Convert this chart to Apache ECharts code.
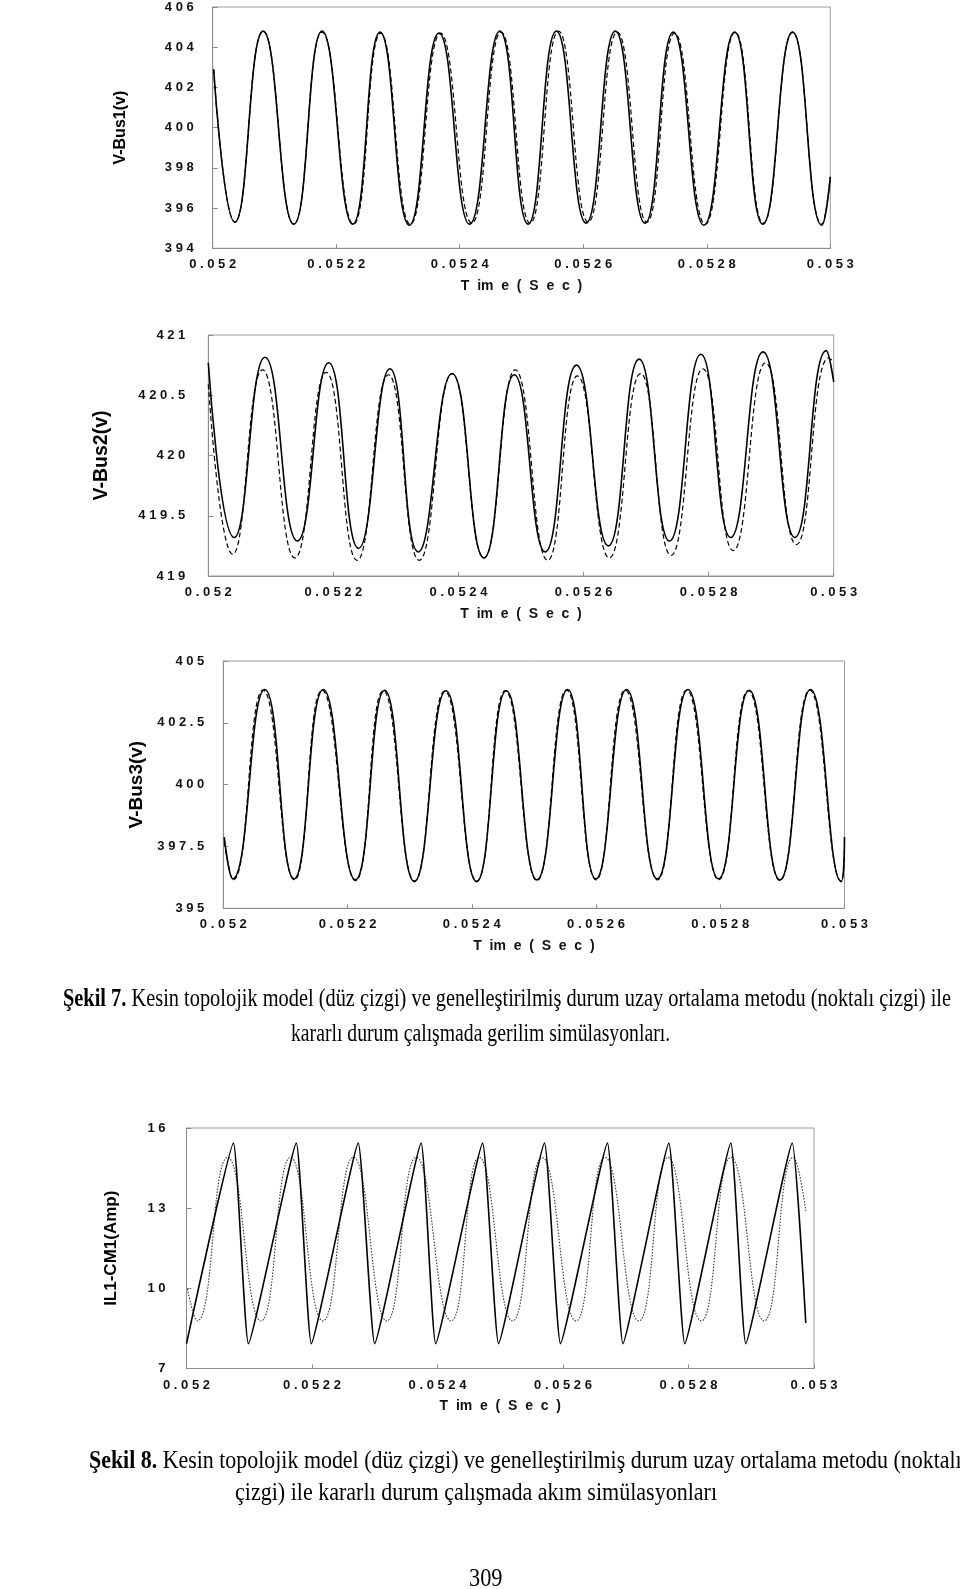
<!DOCTYPE html>
<html>
<head>
<meta charset="utf-8">
<script src="https://cdn.jsdelivr.net/npm/echarts@6/dist/echarts.min.js"></script>
<style>
html,body{margin:0;padding:0;background:#fff;}
#page{position:relative;width:960px;height:1589px;overflow:hidden;}
#chart{position:absolute;left:0;top:0;width:960px;height:1589px;}
.ln{position:absolute;white-space:nowrap;font-family:"Liberation Serif","Times New Roman",serif;font-size:25px;line-height:30px;color:#000;transform-origin:0 50%;display:inline-block;}
</style>
</head>
<body>
<div id="page">
<div id="chart"></div>
<div class="ln" data-x="63" data-y="998" data-w="888"><b>Şekil 7.</b> Kesin topolojik model (düz çizgi) ve genelleştirilmiş durum uzay ortalama metodu (noktalı çizgi) ile</div>
<div class="ln" data-x="291" data-y="1033" data-w="379">kararlı durum çalışmada gerilim simülasyonları.</div>
<div class="ln" data-x="89" data-y="1460" data-w="873"><b>Şekil 8.</b> Kesin topolojik model (düz çizgi) ve genelleştirilmiş durum uzay ortalama metodu (noktalı</div>
<div class="ln" data-x="235" data-y="1492" data-w="482">çizgi) ile kararlı durum çalışmada akım simülasyonları</div>
<div class="ln" data-x="469" data-y="1578" data-w="34">309</div>
</div>
<script>
// ---------- data (time in seconds) ----------
const xTicks = [0.052, 0.0522, 0.0524, 0.0526, 0.0528, 0.053];

// V-Bus1
const v1Ticks = [394, 396, 398, 400, 402, 404, 406];
const v1SolidT = [0.0520015,0.0520359,0.0520817,0.0521313,0.0521771,0.0522267,0.0522710,0.0523183,0.0523664,0.0524160,0.0524649,0.0525107,0.0525565,0.0526046,0.0526519,0.0527000,0.0527458,0.0527954,0.0528450,0.0528908,0.0529389,0.0529863,0.0530000];
const v1SolidV = [402.9,395.3,404.8,395.2,404.8,395.2,404.75,395.15,404.7,395.2,404.8,395.2,404.8,395.25,404.8,395.25,404.75,395.15,404.75,395.2,404.75,395.15,397.55];
const v1DashT  = [0.0520015,0.0520359,0.0520817,0.0521313,0.0521771,0.0522280,0.0522720,0.0523200,0.0523690,0.0524195,0.0524670,0.0525140,0.0525600,0.0526080,0.0526550,0.0527030,0.0527480,0.0527975,0.0528460,0.0528915,0.0529389,0.0529863,0.0530000];
const v1DashV  = [402.9,395.3,404.8,395.2,404.75,395.2,404.7,395.2,404.7,395.25,404.75,395.25,404.8,395.3,404.75,395.3,404.7,395.2,404.75,395.25,404.75,395.2,397.55];

// V-Bus2
const v2Ticks = [419, 419.5, 420, 420.5, 421];
const v2SolidT = [0.0520000,0.0520414,0.0520907,0.0521424,0.0521925,0.0522403,0.0522904,0.0523357,0.0523898,0.0524407,0.0524893,0.0525386,0.0525887,0.0526396,0.0526889,0.0527375,0.0527876,0.0528353,0.0528870,0.0529379,0.0529881,0.0530000];
const v2SolidV = [420.77,419.32,420.815,419.29,420.77,419.23,420.72,419.2,420.68,419.15,420.67,419.2,420.75,419.25,420.8,419.29,420.84,419.32,420.86,419.32,420.87,420.61];
const v2DashT  = [0.0520000,0.0520390,0.0520867,0.0521384,0.0521885,0.0522379,0.0522880,0.0523373,0.0523898,0.0524407,0.0524908,0.0525426,0.0525903,0.0526412,0.0526913,0.0527399,0.0527908,0.0528393,0.0528910,0.0529403,0.0529920,0.0530000];
const v2DashV  = [420.59,419.18,420.71,419.15,420.69,419.13,420.67,419.13,420.68,419.15,420.71,419.13,420.66,419.15,420.68,419.17,420.72,419.21,420.77,419.26,420.81,420.78];

// V-Bus3
const v3Ticks = [395, 397.5, 400, 402.5, 405];
const v3SolidT = [0.0520015,0.0520152,0.0520668,0.0521139,0.0521610,0.0522126,0.0522597,0.0523075,0.0523584,0.0524077,0.0524556,0.0525049,0.0525543,0.0525998,0.0526492,0.0526986,0.0527479,0.0527973,0.0528466,0.0528960,0.0529453,0.0529947,0.0530000];
const v3SolidV = [397.88,396.19,403.85,396.19,403.85,396.15,403.82,396.08,403.8,396.08,403.8,396.15,403.85,396.19,403.85,396.19,403.85,396.19,403.82,396.15,403.85,396.08,397.88];
const v3DashT  = [0.0520015,0.0520160,0.0520640,0.0521145,0.0521590,0.0522130,0.0522575,0.0523080,0.0523565,0.0524080,0.0524540,0.0525050,0.0525525,0.0526000,0.0526470,0.0526990,0.0527460,0.0527975,0.0528450,0.0528960,0.0529440,0.0529950,0.0530000];
const v3DashV  = [397.7,396.15,403.82,396.15,403.82,396.12,403.8,396.1,403.78,396.1,403.8,396.12,403.82,396.15,403.82,396.15,403.82,396.15,403.8,396.12,403.82,396.1,397.6];

// IL1-CM1
const iTicks = [7, 10, 13, 16];
const iSolidT = [0.0520000,0.0520748,0.0520987,0.0521750,0.0521989,0.0522737,0.0522999,0.0523739,0.0523971,0.0524719,0.0524973,0.0525705,0.0525960,0.0526708,0.0526955,0.0527687,0.0527941,0.0528674,0.0528913,0.0529653,0.0529869];
const iSolidV = [7.93,15.44,7.93,15.44,7.93,15.44,7.93,15.44,7.93,15.44,7.93,15.44,7.93,15.44,7.93,15.44,7.93,15.44,7.93,15.44,8.7];
const iDotT = [0.0520015,0.0520170,0.0520655,0.0521187,0.0521658,0.0522174,0.0522660,0.0523192,0.0523662,0.0524217,0.0524665,0.0525197,0.0525667,0.0526207,0.0526669,0.0527209,0.0527672,0.0528204,0.0528674,0.0529206,0.0529669,0.0529869];
const iDotV = [9.98,8.78,14.9,8.78,14.9,8.78,14.9,8.78,14.9,8.78,14.9,8.78,14.9,8.78,14.9,8.78,14.9,8.78,14.9,8.78,14.9,12.9];

const pair = (t, v) => t.map((x, i) => [x, v[i]]);
const sp = s => String(s).split('').join(' ');

// ---------- layout ----------
const grids = [
  {left: 212.7, top: 7,    width: 617.6, height: 241.3},
  {left: 208.3, top: 335,  width: 625.4, height: 241},
  {left: 223.3, top: 661,  width: 621.2, height: 247.3},
  {left: 186.5, top: 1128, width: 627.5, height: 240.5}
];
const yDefs = [
  {ticks: v1Ticks, name: 'V-Bus1(v)', gap: 84.5, fs: 16, lm: 19},
  {ticks: v2Ticks, name: 'V-Bus2(v)', gap: 97, fs: 19.5, lm: 23},
  {ticks: v3Ticks, name: 'V-Bus3(v)', gap: 75, fs: 19, lm: 19},
  {ticks: iTicks,  name: 'IL1-CM1(Amp)', gap: 66.5, fs: 17, lm: 21}
];
const tickFont = {fontFamily: 'Liberation Sans, Arial, sans-serif', fontWeight: 'bold', fontSize: 13, color: '#111'};
const axisCol = '#8c8c8c';

const option = {
  animation: false,
  backgroundColor: '#fff',
  grid: grids.map(g => Object.assign({show: true, borderColor: '#9a9a9a', borderWidth: 1, containLabel: false}, g)),
  xAxis: grids.map((g, i) => ({
    type: 'value', gridIndex: i, min: 0.052, max: 0.053,
    name: 'T  im  e  (  S  e  c  )', nameLocation: 'middle', nameGap: 31,
    nameTextStyle: Object.assign({}, tickFont, {fontSize: 14}),
    axisLine: {show: true, lineStyle: {color: axisCol, width: 1}},
    axisTick: {show: true, inside: true, length: 4, lineStyle: {color: axisCol}, customValues: xTicks},
    axisLabel: Object.assign({margin: 10, customValues: xTicks, showMinLabel: true, showMaxLabel: true,
      formatter: v => sp(+(+v).toFixed(5))}, tickFont),
    splitLine: {show: false}
  })),
  yAxis: yDefs.map((d, i) => ({
    type: 'value', gridIndex: i, min: d.ticks[0], max: d.ticks[d.ticks.length - 1],
    interval: d.ticks[1] - d.ticks[0],
    name: d.name, nameLocation: 'middle', nameRotate: 90, nameGap: d.gap,
    nameTextStyle: {fontFamily: 'Liberation Sans, Arial, sans-serif', fontWeight: 'bold', fontSize: d.fs, color: '#000'},
    axisLine: {show: true, lineStyle: {color: axisCol, width: 1}},
    axisTick: {show: true, inside: true, length: 5, lineStyle: {color: axisCol}},
    axisLabel: Object.assign({margin: d.lm, formatter: v => sp(+(+v).toFixed(3))}, tickFont),
    splitLine: {show: false}
  })),
  series: [
    {type: 'line', xAxisIndex: 0, yAxisIndex: 0, data: pair(v1DashT, v1DashV), smooth: true, symbol: 'none', lineStyle: {color: '#000', width: 1.2, type: [5, 3]}},
    {type: 'line', xAxisIndex: 0, yAxisIndex: 0, data: pair(v1SolidT, v1SolidV), smooth: true, symbol: 'none', lineStyle: {color: '#000', width: 1.6}},
    {type: 'line', xAxisIndex: 1, yAxisIndex: 1, data: pair(v2DashT, v2DashV), smooth: true, symbol: 'none', lineStyle: {color: '#000', width: 1.2, type: [5, 3]}},
    {type: 'line', xAxisIndex: 1, yAxisIndex: 1, data: pair(v2SolidT, v2SolidV), smooth: true, symbol: 'none', lineStyle: {color: '#000', width: 1.6}},
    {type: 'line', xAxisIndex: 2, yAxisIndex: 2, data: pair(v3DashT, v3DashV), smooth: true, symbol: 'none', lineStyle: {color: '#000', width: 1.2, type: [5, 3]}},
    {type: 'line', xAxisIndex: 2, yAxisIndex: 2, data: pair(v3SolidT, v3SolidV), smooth: true, symbol: 'none', lineStyle: {color: '#000', width: 1.6}},
    {type: 'line', xAxisIndex: 3, yAxisIndex: 3, data: pair(iDotT, iDotV), smooth: true, symbol: 'none', lineStyle: {color: '#333', width: 1.1, type: [1.5, 1.5]}},
    {type: 'line', xAxisIndex: 3, yAxisIndex: 3, data: pair(iSolidT, iSolidV), smooth: 0.12, symbol: 'none', lineStyle: {color: '#000', width: 1.6}}
  ]
};
const chart = echarts.init(document.getElementById('chart'), null, {renderer: 'canvas'});
chart.setOption(option);

// caption lines: fit to measured widths
document.querySelectorAll('.ln').forEach(el => {
  const w = el.offsetWidth, h = el.offsetHeight;
  const tw = +el.dataset.w;
  el.style.left = el.dataset.x + 'px';
  el.style.top = (+el.dataset.y - h / 2) + 'px';
  el.style.transform = 'scaleX(' + (tw / w) + ')';
});
</script>
</body>
</html>
